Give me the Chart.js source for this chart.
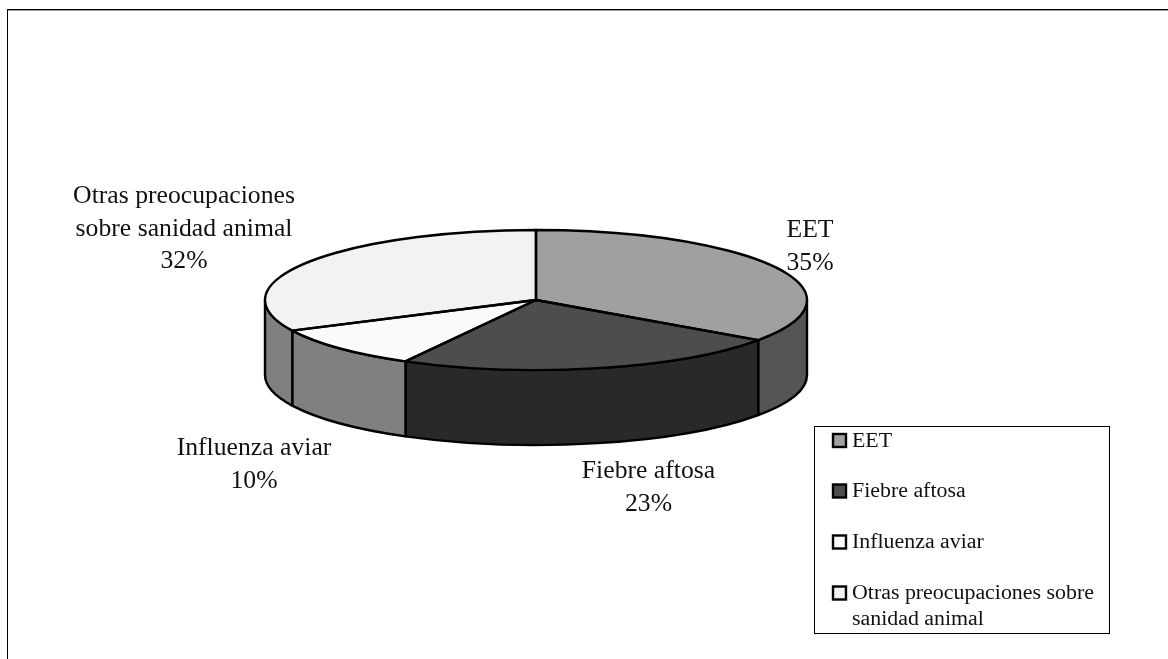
<!DOCTYPE html>
<html>
<head>
<meta charset="utf-8">
<title>Preocupaciones sobre sanidad animal</title>
<script src="https://cdn.jsdelivr.net/npm/chart.js@4/dist/chart.umd.min.js"></script>
<style>
  html, body { margin: 0; padding: 0; background: #fff; }
  #wrap { position: relative; width: 1168px; height: 659px; }
</style>
</head>
<body>
<div id="wrap"><canvas id="pie"></canvas></div>
<script>
const categories = ['EET', 'Fiebre aftosa', 'Influenza aviar', 'Otras preocupaciones sobre sanidad animal'];
const shares = [34.7, 23.3, 9.8, 32.2];
const topColors = ['#a0a0a0', '#4d4d4d', '#fafafa', '#f2f2f2'];
const wallColors = ['#555555', '#292929', '#808080', '#808080'];

// Text lines of the slice labels and where each block is centred
const sliceLabelLines = [['EET', '35%'], ['Fiebre aftosa', '23%'], ['Influenza aviar', '10%'], ['Otras preocupaciones', 'sobre sanidad animal', '32%']];
const sliceLabelPos = [[810, 247], [648.5, 488], [254, 465], [184, 229]];

const FONT_FAMILY = "'Liberation Serif', serif";
const SQUASH = 70 / 271;   // vertical flattening of the pie
const DEPTH = 75;          // height of the side wall
const OUTLINE = 2.4;

function sliceGeometry(chart) {
  const first = chart.getDatasetMeta(0).data[0];
  return { cx: first.x, cy: first.y, rx: first.outerRadius, ry: first.outerRadius * SQUASH };
}

// Side wall goes under the top face, then the top face is flattened
const pie3d = {
  id: 'pie3d',
  beforeDatasetsDraw(chart) {
    const ctx = chart.ctx;
    const { cx, cy, rx, ry } = sliceGeometry(chart);
    ctx.save();
    ctx.lineWidth = OUTLINE;
    ctx.strokeStyle = '#000';
    ctx.lineJoin = 'round';
    chart.getDatasetMeta(0).data.forEach((arc, i) => {
      const a0 = Math.max(arc.startAngle, 0);
      const a1 = Math.min(arc.endAngle, Math.PI);
      if (a1 <= a0) return;
      ctx.beginPath();
      ctx.ellipse(cx, cy, rx, ry, 0, a0, a1);
      ctx.ellipse(cx, cy + DEPTH, rx, ry, 0, a1, a0, true);
      ctx.closePath();
      ctx.fillStyle = wallColors[i];
      ctx.fill();
      ctx.stroke();
    });
    ctx.restore();

    ctx.save();
    ctx.translate(0, cy);
    ctx.scale(1, SQUASH);
    ctx.translate(0, -cy);
  },
  afterDatasetsDraw(chart) {
    const ctx = chart.ctx;
    ctx.restore();

    // Outlines are stroked unscaled so the line keeps an even width
    const { cx, cy, rx, ry } = sliceGeometry(chart);
    ctx.save();
    ctx.lineWidth = OUTLINE;
    ctx.strokeStyle = '#000';
    ctx.lineJoin = 'round';
    chart.getDatasetMeta(0).data.forEach(arc => {
      ctx.beginPath();
      ctx.moveTo(cx, cy);
      ctx.ellipse(cx, cy, rx, ry, 0, arc.startAngle, arc.endAngle);
      ctx.closePath();
      ctx.stroke();
    });
    ctx.restore();
  }
};

const sliceLabels = {
  id: 'sliceLabels',
  afterDraw(chart) {
    const ctx = chart.ctx;
    const lineHeight = 32.5;
    ctx.save();
    ctx.font = '25.7px ' + FONT_FAMILY;
    ctx.fillStyle = '#111';
    ctx.textAlign = 'center';
    ctx.textBaseline = 'middle';
    sliceLabelLines.forEach((lines, i) => {
      const [x, y] = sliceLabelPos[i];
      const top = y - (lines.length - 1) * lineHeight / 2;
      lines.forEach((line, j) => ctx.fillText(line, x, top + j * lineHeight));
    });
    ctx.restore();
  }
};

// Boxed legend; the built-in one does not wrap long labels
const boxedLegend = {
  id: 'boxedLegend',
  afterDraw(chart) {
    const ctx = chart.ctx;
    const box = { x: 814.5, y: 426.5, w: 295, h: 207 };
    const rowY = [441, 491.5, 542.5, 593.5];
    const maxTextWidth = 250;
    ctx.save();
    ctx.fillStyle = '#fff';
    ctx.strokeStyle = '#000';
    ctx.lineWidth = 1;
    ctx.fillRect(box.x, box.y, box.w, box.h);
    ctx.strokeRect(box.x, box.y, box.w, box.h);

    ctx.font = '21.9px ' + FONT_FAMILY;
    ctx.textBaseline = 'middle';
    categories.forEach((name, i) => {
      ctx.lineWidth = 2.4;
      ctx.fillStyle = topColors[i];
      ctx.fillRect(833, rowY[i] - 7, 13, 13);
      ctx.strokeRect(833, rowY[i] - 7, 13, 13);

      ctx.fillStyle = '#111';
      let line = '';
      let y = rowY[i];
      name.split(' ').forEach(word => {
        const next = line ? line + ' ' + word : word;
        if (ctx.measureText(next).width > maxTextWidth) {
          ctx.fillText(line, 852, y);
          line = word;
          y += 26;
        } else {
          line = next;
        }
      });
      ctx.fillText(line, 852, y);
    });
    ctx.restore();
  }
};

// Frame of the original figure, cut off by the picture edge
const frame = {
  id: 'frame',
  beforeDraw(chart) {
    const ctx = chart.ctx;
    ctx.save();
    ctx.fillStyle = '#000';
    ctx.fillRect(7, 9, 1161, 1);
    ctx.fillRect(7, 9, 1, 650);
    ctx.fillStyle = '#999';
    ctx.fillRect(8, 10, 1160, 1);
    ctx.restore();
  }
};

new Chart(document.getElementById('pie'), {
  type: 'pie',
  data: {
    labels: categories,
    datasets: [{
      data: shares,
      backgroundColor: topColors,
      borderWidth: 0
    }]
  },
  plugins: [frame, pie3d, sliceLabels, boxedLegend],
  options: {
    responsive: true,
    maintainAspectRatio: false,
    animation: false,
    layout: { padding: { left: 265, right: 361, top: 29, bottom: 88 } },
    plugins: {
      legend: { display: false },
      tooltip: { enabled: false }
    }
  }
});
</script>
</body>
</html>
